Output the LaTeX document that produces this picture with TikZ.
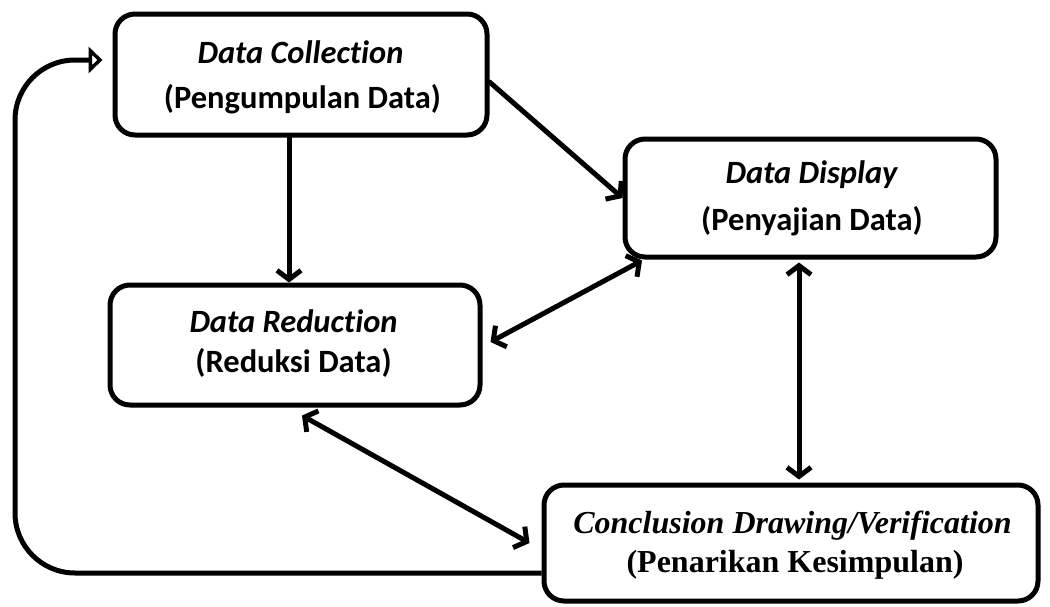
\documentclass[tikz,border=0pt]{standalone}
\usepackage{fontspec}
\setmainfont{Carlito}[Ligatures=CommonOff]
\newfontfamily\timesfont{Liberation Serif}
\usetikzlibrary{arrows.meta}
\begin{document}
\begin{tikzpicture}[x=1pt,y=-1pt,
  box/.style={draw=black, line width=5pt, rounded corners=20pt, fill=white, inner sep=0pt},
  cal/.style={font=\fontsize{32.5}{46}\selectfont\bfseries, anchor=base, inner sep=0pt},
  tms/.style={font=\timesfont\fontsize{32}{39}\selectfont\bfseries, anchor=base, inner sep=0pt},
  conn/.style={line width=5pt, line cap=round, {-Straight Barb[length=9pt,width=24pt,line width=5pt]}},
  dconn/.style={line width=5pt, line cap=round, {Straight Barb[length=9pt,width=24pt,line width=5pt]-Straight Barb[length=9pt,width=24pt,line width=5pt]}},
  back/.style={line width=5pt, rounded corners=60pt, -{Triangle[open,length=14pt,width=26pt,line width=4.5pt]}}]
\useasboundingbox (0,0) rectangle (1050,606);
\node[box, minimum width=372pt, minimum height=121pt] (dc) at (301,74.5) {};
\node[box, minimum width=371pt, minimum height=118pt] (disp) at (810.5,198) {};
\node[box, minimum width=370pt, minimum height=120pt] (red) at (295,345) {};
\node[box, minimum width=494pt, minimum height=116pt] (conc) at (791,543) {};
\node[cal] (dc1) at (300.5,63) {\textit{Data Collection}};
\node[cal] (dc2) at (302.5,108) {(Pengumpulan Data)};
\node[cal] (disp1) at (812,183) {\textit{Data Display}};
\node[cal] (disp2) at (812,230) {(Penyajian Data)};
\node[cal] (red1) at (293.5,332) {\textit{Data Reduction}};
\node[cal] (red2) at (293.5,372) {(Reduksi Data)};
\node[tms] (conc1) at (792.5,533) {\textit{Conclusion Drawing/Verification}};
\node[tms] (conc2) at (795,572) {(Penarikan Kesimpulan)};
\coordinate (lb) at (15,573);
\coordinate (lt) at (15,60);
\draw[conn] ([yshift=-7.5pt]dc.east) -- (disp.west);
\draw[conn] ([xshift=-12pt]dc.south) -- ([xshift=-12pt]dc.south |- red.north);
\draw[dconn] ([shift={(8pt,3pt)}]red.east) -- ([shift={(-168.5pt,-1pt)}]disp.south);
\draw[dconn] ([shift={(7pt,-8pt)}]red.south) -- ([xshift=-12pt]conc.west);
\draw[dconn] ([shift={(-11.5pt,-3pt)}]disp.south) -- ([shift={(8pt,3pt)}]conc.north);
\draw[back] ([yshift=-30pt]conc.west) -- (lb) -- (lt) -- ([shift={(-10pt,14.5pt)}]dc.west);
\end{tikzpicture}
\end{document}
